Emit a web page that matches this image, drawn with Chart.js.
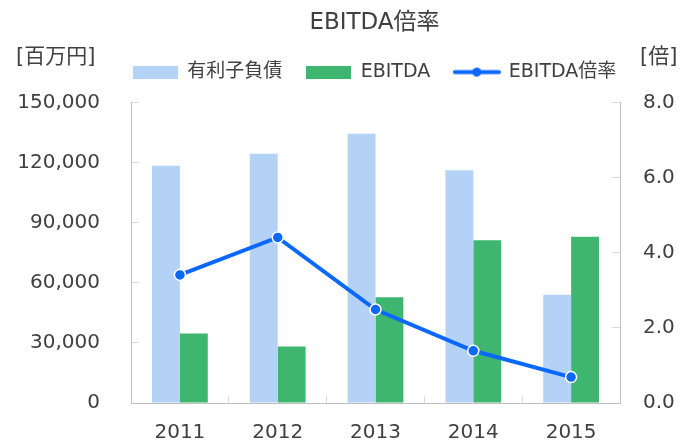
<!DOCTYPE html>
<html>
<head>
<meta charset="utf-8">
<script src="https://cdn.jsdelivr.net/npm/chart.js@4.4.0/dist/chart.umd.min.js"></script>
<style>
  body { margin: 0; background: #fff; }
  canvas { display: block; }
</style>
</head>
<body>
<canvas id="graficoEbitda" width="685" height="445"></canvas>
<script>
var anos = ["2011", "2012", "2013", "2014", "2015"];
var dividaComJuros = [118500, 124500, 134500, 116200, 54000];
var valoresEbitda = [34700, 28200, 52800, 81300, 83000];
var multiploEbitda = [3.41, 4.41, 2.49, 1.39, 0.69];
var nomesSeries = ["有利子負債", "EBITDA", "EBITDA倍率"];

var corTexto = "#404040";
var corAzulClaro = "#b4d2f6";
var corVerde = "#3fb66f";
var corLinha = "#0a68ff";

Chart.defaults.font.family = "'DejaVu Sans', 'Noto Sans CJK JP', sans-serif";
Chart.defaults.color = corTexto;

// desenha os icones da legenda
function iconeRetangulo(cor) {
  var c = document.createElement("canvas");
  c.width = 45;
  c.height = 13;
  var ctx = c.getContext("2d");
  ctx.fillStyle = cor;
  ctx.fillRect(0, 0, 45, 13);
  return c;
}

function iconeLinha(cor) {
  var c = document.createElement("canvas");
  c.width = 48;
  c.height = 13;
  var ctx = c.getContext("2d");
  ctx.strokeStyle = cor;
  ctx.lineWidth = 4;
  ctx.lineCap = "round";
  ctx.beginPath();
  ctx.moveTo(2, 6.5);
  ctx.lineTo(46, 6.5);
  ctx.stroke();
  ctx.fillStyle = cor;
  ctx.beginPath();
  ctx.arc(24, 6.5, 4.5, 0, Math.PI * 2);
  ctx.fill();
  return c;
}

var icones = [iconeRetangulo(corAzulClaro), iconeRetangulo(corVerde), iconeLinha(corLinha)];

var rotulosUnidade = {
  id: "rotulosUnidade",
  beforeLayout: function (chart) {
    // espaco extra entre a legenda e o grafico
    var leg = chart.legend;
    if (leg && !leg._ajustado) {
      var fitOriginal = leg.fit;
      leg.fit = function () {
        fitOriginal.call(this);
        this.height += 11;
      };
      leg._ajustado = true;
    }
  },
  afterLayout: function (chart) {
    // titulo e legenda centralizados sobre a area do grafico
    if (chart.legend) chart.legend.left = 64;
    if (chart.titleBlock) chart.titleBlock.left = 64;
  },
  afterDraw: function (chart) {
    var ctx = chart.ctx;
    ctx.save();
    ctx.font = "21px 'DejaVu Sans', 'Noto Sans CJK JP', sans-serif";
    ctx.fillStyle = corTexto;
    ctx.textBaseline = "middle";
    ctx.textAlign = "left";
    ctx.fillText("[百万円]", 16, 58);
    ctx.fillText("[倍]", 640, 58);
    ctx.restore();
  },
};

const config = {
  type: "bar",
  data: {
    labels: anos,
    datasets: [
      {
        type: "line",
        label: nomesSeries[2],
        data: multiploEbitda,
        yAxisID: "y1",
        borderColor: corLinha,
        backgroundColor: corLinha,
        borderWidth: 4,
        pointRadius: 5.5,
        pointBackgroundColor: corLinha,
        pointBorderColor: "#ffffff",
        pointBorderWidth: 1.5,
        order: 0,
      },
      {
        label: nomesSeries[0],
        data: dividaComJuros,
        yAxisID: "y",
        backgroundColor: corAzulClaro,
        categoryPercentage: 0.57,
        barPercentage: 1.0,
        order: 1,
      },
      {
        label: nomesSeries[1],
        data: valoresEbitda,
        yAxisID: "y",
        backgroundColor: corVerde,
        categoryPercentage: 0.57,
        barPercentage: 1.0,
        order: 1,
      },
    ],
  },
  options: {
    responsive: false,
    animation: {
      duration: 0,
    },
    layout: {
      autoPadding: false,
      padding: 0,
    },
    plugins: {
      title: {
        display: true,
        text: "EBITDA倍率",
        color: corTexto,
        font: { size: 23, weight: "normal" },
        padding: { top: 9, bottom: 2 },
      },
      legend: {
        position: "top",
        labels: {
          usePointStyle: true,
          pointStyleWidth: 45,
          boxHeight: 13,
          padding: 24,
          color: corTexto,
          font: { size: 19 },
          generateLabels: function (chart) {
            return [1, 2, 0].map(function (i, k) {
              return {
                text: chart.data.datasets[i].label,
                pointStyle: icones[k],
                datasetIndex: i,
                hidden: false,
                lineWidth: 0,
                fontColor: corTexto,
              };
            });
          },
        },
      },
      tooltip: { enabled: false },
    },
    scales: {
      x: {
        offset: true,
        grid: {
          offset: true,
          drawOnChartArea: false,
          tickLength: -7,
          tickColor: "#d9d9d9",
        },
        border: { color: "#bfbfbf" },
        ticks: { color: corTexto, font: { size: 20 }, padding: 25 },
        afterFit: function (scale) {
          scale.height = 42;
        },
      },
      y: {
        position: "left",
        min: 0,
        max: 150000,
        grid: {
          drawOnChartArea: false,
          tickLength: -8,
          tickColor: "#d9d9d9",
        },
        border: { color: "#bfbfbf" },
        ticks: {
          stepSize: 30000,
          color: corTexto,
          font: { size: 20 },
          padding: 39,
          callback: function (v) {
            return v.toLocaleString("en-US");
          },
        },
        afterFit: function (scale) {
          scale.width = 131;
          scale.paddingTop = 12;
          scale.paddingBottom = 12;
        },
      },
      y1: {
        position: "right",
        min: 0,
        max: 8,
        grid: {
          drawOnChartArea: false,
          tickLength: -8,
          tickColor: "#d9d9d9",
        },
        border: { color: "#bfbfbf" },
        ticks: {
          stepSize: 2,
          color: corTexto,
          font: { size: 20 },
          padding: 31,
          callback: function (v) {
            return v.toFixed(1);
          },
        },
        afterFit: function (scale) {
          scale.width = 65;
          scale.paddingTop = 12;
          scale.paddingBottom = 12;
        },
      },
    },
  },
  plugins: [rotulosUnidade],
};

var graficoEbitda = new Chart(document.getElementById("graficoEbitda"), config);
</script>
</body>
</html>
